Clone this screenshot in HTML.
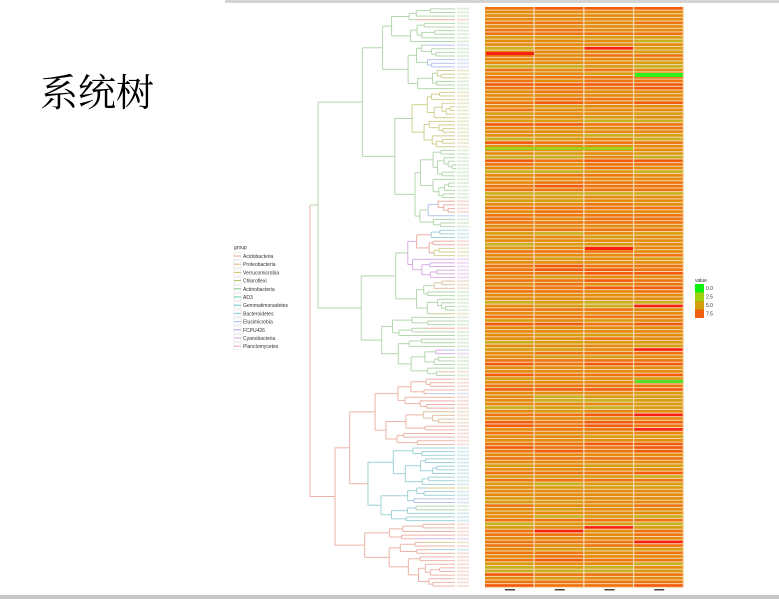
<!DOCTYPE html>
<html><head><meta charset="utf-8"><style>
html,body{margin:0;padding:0;background:#fff;width:779px;height:599px;overflow:hidden;font-family:"Liberation Sans",sans-serif}
#t{position:absolute;left:40px;top:62px;font-family:"Liberation Serif","Noto Serif CJK SC",serif;font-size:38px;color:#000}
</style></head><body>
<div style="position:absolute;left:225px;top:0;width:554px;height:3px;background:#d4d4d4"></div>
<div style="position:absolute;left:0;top:595px;width:779px;height:4px;background:#c8c8c8"></div>
<div id="t">系统树</div>
<svg id="s" width="779" height="599" style="position:absolute;left:0;top:0"></svg>
<script>
var s=document.getElementById('s'),h='';
var seed=7;function r(){seed=(seed*16807)%2147483647;return seed/2147483647;}
var N=160,y0=7,rh=3.63,hx=485,cw=49.75;
h+='<rect x="485" y="7" width="199" height="'+(N*rh)+'" fill="#f4d8b0"/>';
function cc(v){return v<0.12?'#f25a0c':v<0.45?'#ee7410':v<0.8?'#e48a0c':v<0.96?'#d89c10':'#c8b020';}
for(var i=0;i<N;i++){var base=r();for(var c=0;c<4;c++){var v=base+(r()-0.5)*0.35;v=Math.min(0.99,Math.max(0,v));var col=cc(v);
if(r()<0.006)col='#f82010';
h+='<rect x="'+(hx+c*cw)+'" y="'+(y0+i*rh)+'" width="'+(cw-1.3)+'" height="'+(rh-1)+'" fill="'+col+'"/>';}}
h+='<rect x="635" y="73" width="48" height="4" fill="#30f020"/><rect x="635" y="380" width="48" height="3" fill="#50e030"/><rect x="486" y="147" width="147" height="3" fill="#a0d020"/><rect x="486" y="52" width="48" height="3" fill="#f82010"/><rect x="585" y="247" width="48" height="3" fill="#f82010"/>';
var tip=455;
function yl(i){return y0+i*rh+rh/2;}
var pal=['#e8a090','#c8c880','#d8b890','#a8d0a0','#90c8d0','#a8b8e8','#d0a0e0'];
function node(lo,hi,x,col){if(hi-lo==1){var y=yl(lo);h+='<line x1="'+x+'" y1="'+y+'" x2="'+tip+'" y2="'+y+'" stroke="'+col+'"/><rect x="457" y="'+(y-1)+'" width="12" height="2" fill="'+col+'" opacity="0.4"/>';return y;}
 var m=lo+1+Math.floor(r()*(hi-lo-1));if(hi-lo>6)m=lo+Math.floor((hi-lo)*(0.3+r()*0.4));
 var rem=tip-x;
 var c1=col,c2=col;if(r()<0.1)c1=pal[Math.floor(r()*7)];if(r()<0.1)c2=pal[Math.floor(r()*7)];
 var x1=x+Math.max(4,rem*(0.1+r()*0.3)),x2=x+Math.max(4,rem*(0.1+r()*0.3));
 var a=node(lo,m,x1,c1),b=node(m,hi,x2,c2);
 h+='<line x1="'+x+'" y1="'+a+'" x2="'+x+'" y2="'+b+'" stroke="'+col+'"/><line x1="'+x+'" y1="'+a+'" x2="'+x1+'" y2="'+a+'" stroke="'+col+'"/><line x1="'+x+'" y1="'+b+'" x2="'+x2+'" y2="'+b+'" stroke="'+col+'"/>';
 return (a+b)/2;}
h+='<g opacity="0.85">';
var A=node(0,102,318,'#a8d0a0'),B=node(102,N,335,'#e8a898');
h+='<line x1="310" y1="'+A+'" x2="310" y2="'+B+'" stroke="#e8a898"/><line x1="310" y1="'+A+'" x2="318" y2="'+A+'" stroke="#a8d0a0"/><line x1="310" y1="'+B+'" x2="335" y2="'+B+'" stroke="#e8a898"/></g>';
var g=['Acidobacteria','Proteobacteria','Verrucomicrobia','Chloroflexi','Actinobacteria','AD3','Gemmatimonadetes','Bacteroidetes','Elusimicrobia','FCPU426','Cyanobacteria','Planctomycetes'];
var gc=['#f0a090','#e0b070','#c8c060','#a0c060','#80c890','#60c8b0','#60c0c8','#80c8e0','#a0b8f0','#b0a0f0','#e0a0e0','#f0a0c0'];
h+='<text x="234" y="249" font-size="5" fill="#333">group</text>';
for(var k=0;k<12;k++){var yy=256+k*8.2;h+='<rect x="234" y="'+(yy-3.5)+'" width="7" height="7" fill="#fff" stroke="#eee"/><line x1="234" y1="'+yy+'" x2="241" y2="'+yy+'" stroke="'+gc[k]+'"/><text x="243" y="'+(yy+2)+'" font-size="5" fill="#333">'+g[k]+'</text>';}
h+='<text x="695" y="282" font-size="5" fill="#333">value</text>';
var vc=['#10f010','#a0d010','#d0a010','#f06010'],vl=['0.0','2.5','5.0','7.5'];
for(k=0;k<4;k++){h+='<rect x="695" y="'+(284+k*8.5)+'" width="9" height="8.5" fill="'+vc[k]+'"/><text x="706" y="'+(290+k*8.5)+'" font-size="5" fill="#333">'+vl[k]+'</text>';}
for(k=0;k<4;k++)h+='<rect x="'+(505+k*cw)+'" y="589" width="10" height="1.5" fill="#444"/>';
s.innerHTML=h;
</script>
</body></html>
